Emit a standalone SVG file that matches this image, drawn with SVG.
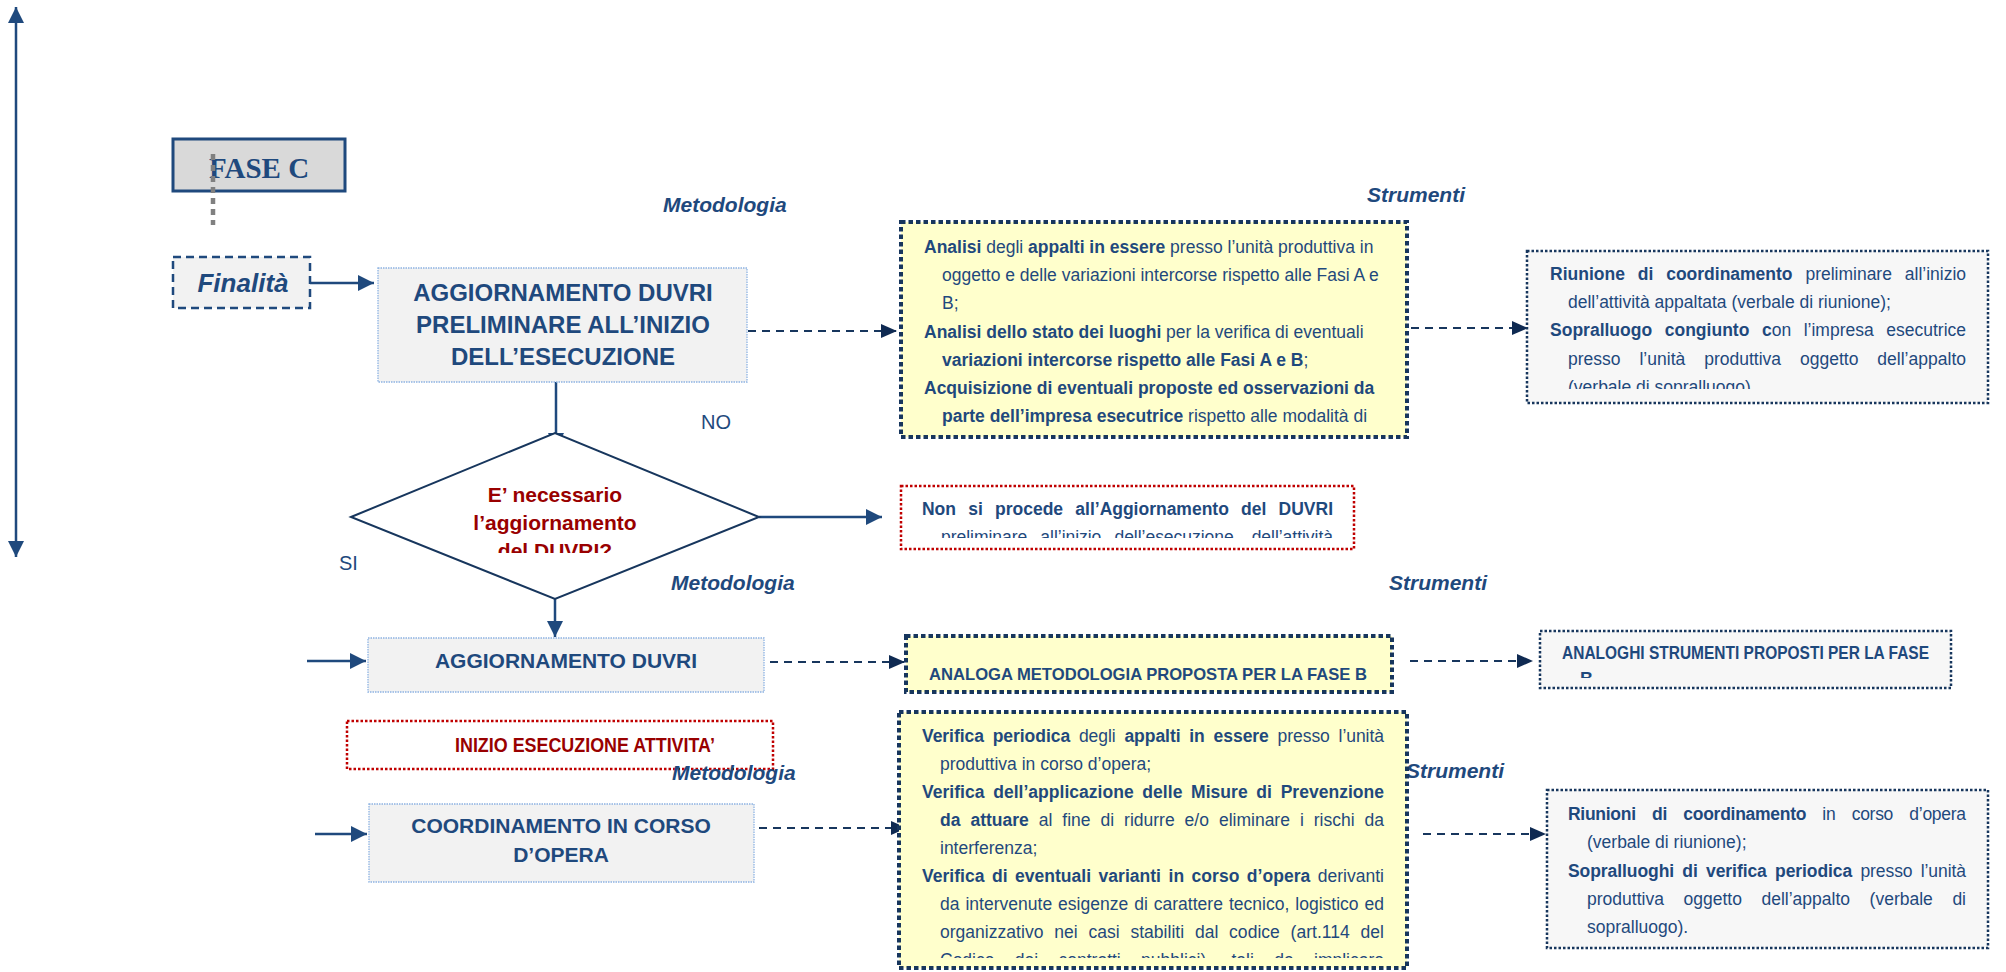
<svg xmlns="http://www.w3.org/2000/svg" width="2006" height="972" viewBox="0 0 2006 972">
<style>
.t{font-family:"Liberation Sans",Arial,sans-serif;fill:#1f497d}
.body{font-size:17.5px}
.b{font-weight:bold}
.lbl{font-size:21px;font-weight:bold;font-style:italic}
.hd{font-weight:bold;text-anchor:middle}
.rt{fill:#990000}
.yel{fill:#ffffcc;stroke:#17365d;stroke-width:4;stroke-dasharray:4.5 3}
.dot{fill:#f7f7f7;stroke:#17365d;stroke-width:2.5;stroke-dasharray:2.5 2}
.red{fill:#ffffff;stroke:#c00000;stroke-width:2.5;stroke-dasharray:2.5 2}
.gray{fill:#f2f2f2;stroke:#8db3e2;stroke-width:1.3;stroke-dasharray:1.5 1}
.solid{stroke:#1f497d;stroke-width:2.5;fill:none;marker-end:url(#a)}
.dash{stroke:#17365d;stroke-width:2;stroke-dasharray:8 6;fill:none;marker-end:url(#ad)}
</style>
<defs>
<marker id="a" markerUnits="userSpaceOnUse" markerWidth="16" markerHeight="16" refX="16" refY="8" orient="auto-start-reverse"><path d="M0,0 L16,8 L0,16 z" fill="#1f497d"/></marker>
<marker id="ad" markerUnits="userSpaceOnUse" markerWidth="16" markerHeight="16" refX="16" refY="8" orient="auto"><path d="M0,1 L16,8 L0,15 z" fill="#0f2a52"/></marker>
<clipPath id="cA"><rect x="900" y="222" width="507" height="206"/></clipPath>
<clipPath id="cR1"><rect x="1527" y="251" width="461" height="138"/></clipPath>
<clipPath id="cN"><rect x="901" y="486" width="453" height="52"/></clipPath>
<clipPath id="cD"><rect x="351" y="433" width="408" height="120"/></clipPath>
<clipPath id="cAG"><rect x="1540" y="631" width="411" height="47"/></clipPath>
<clipPath id="cV"><rect x="899" y="712" width="508" height="246"/></clipPath>
</defs>
<rect width="2006" height="972" fill="#ffffff"/>

<g id="connectors">
<line x1="16" y1="7" x2="16" y2="557" stroke="#1f497d" stroke-width="2.5" marker-start="url(#a)" marker-end="url(#a)"/>
<line class="solid" x1="310" y1="283" x2="374" y2="283"/>
<line class="dash" x1="748" y1="331" x2="897" y2="331"/>
<line class="dash" x1="1411" y1="328" x2="1528" y2="328"/>
<line class="solid" x1="556" y1="382" x2="556" y2="449"/>
<line class="solid" x1="759" y1="517" x2="882" y2="517"/>
<line class="solid" x1="555" y1="599" x2="555" y2="637"/>
<line class="solid" x1="307" y1="661" x2="366" y2="661"/>
<line class="dash" x1="770" y1="662" x2="905" y2="662"/>
<line class="dash" x1="1410" y1="661" x2="1533" y2="661"/>
<line class="solid" x1="315" y1="834" x2="367" y2="834"/>
<line class="dash" x1="759" y1="828" x2="907" y2="828"/>
<line class="dash" x1="1423" y1="834" x2="1546" y2="834"/>
</g>

<g id="fase-c">
<rect x="173" y="139" width="172" height="52" fill="#d9d9d9" stroke="#1f497d" stroke-width="3"/>
<text x="259" y="178" text-anchor="middle" style="font-family:'Liberation Serif','Times New Roman',serif;font-weight:bold;font-size:29px;fill:#1f497d">FASE C</text>
<line x1="213" y1="154" x2="213" y2="225" stroke="#808080" stroke-width="4.5" stroke-dasharray="6 5"/>
</g>

<g id="finalita">
<rect x="173" y="257" width="137" height="51" fill="#f2f2f2" stroke="#1f497d" stroke-width="2.5" stroke-dasharray="8 5"/>
<text class="t" x="243" y="292" text-anchor="middle" style="font-size:26px;font-weight:bold;font-style:italic">Finalità</text>
</g>

<g id="labels">
<text class="t lbl" x="663" y="212">Metodologia</text>
<text class="t lbl" x="1367" y="202">Strumenti</text>
<text class="t lbl" x="671" y="590">Metodologia</text>
<text class="t lbl" x="1389" y="590">Strumenti</text>
<text class="t lbl" x="1406" y="778">Strumenti</text>
<text class="t" x="701" y="429" style="font-size:20px">NO</text>
<text class="t" x="339" y="570" style="font-size:20px">SI</text>
</g>

<g id="aggiornamento-preliminare">
<rect class="gray" x="378" y="268" width="369" height="114"/>
<text class="t hd" x="563" y="301" style="font-size:24px">AGGIORNAMENTO DUVRI</text>
<text class="t hd" x="563" y="333" style="font-size:24px">PRELIMINARE ALL’INIZIO</text>
<text class="t hd" x="563" y="365" style="font-size:24px">DELL’ESECUZIONE</text>
</g>

<g id="analisi">
<rect class="yel" x="901" y="222" width="506" height="215"/>
<g clip-path="url(#cA)" class="t body">
<text x="924" y="253"><tspan class="b">Analisi</tspan> degli <tspan class="b">appalti in essere</tspan> presso l’unità produttiva in</text>
<text x="942" y="281">oggetto e delle variazioni intercorse rispetto alle Fasi A e</text>
<text x="942" y="309">B;</text>
<text x="924" y="338"><tspan class="b">Analisi dello stato dei luoghi</tspan> per la verifica di eventuali</text>
<text x="942" y="366"><tspan class="b">variazioni intercorse rispetto alle Fasi A e B</tspan>;</text>
<text x="924" y="394" class="b">Acquisizione di eventuali proposte ed osservazioni da</text>
<text x="942" y="422"><tspan class="b">parte dell’impresa esecutrice</tspan> rispetto alle modalità di</text>
</g>
</g>

<g id="riunione-preliminare">
<rect class="dot" x="1527" y="251" width="461" height="152"/>
<g clip-path="url(#cR1)" class="t body">
<text x="1550" y="280" style="word-spacing:8px" textLength="416" lengthAdjust="spacing"><tspan class="b">Riunione di coordinamento</tspan> preliminare all’inizio</text>
<text x="1568" y="308">dell’attività appaltata (verbale di riunione);</text>
<text x="1550" y="336" style="word-spacing:7.7px" textLength="416" lengthAdjust="spacing"><tspan class="b">Sopralluogo congiunto c</tspan>on l’impresa esecutrice</text>
<text x="1568" y="365" style="word-spacing:14px" textLength="398" lengthAdjust="spacing">presso l’unità produttiva oggetto dell’appalto</text>
<text x="1568" y="393">(verbale di sopralluogo)</text>
</g>
</g>

<g id="decisione">
<polygon points="351,517 555,433 759,517 555,599" fill="#ffffff" stroke="#17365d" stroke-width="2"/>
<g clip-path="url(#cD)" class="t hd rt" style="font-size:21px">
<text x="555" y="502">E’ necessario</text>
<text x="555" y="530">l’aggiornamento</text>
<text x="555" y="558">del DUVRI?</text>
</g>
</g>

<g id="non-si-procede">
<rect class="red" x="901" y="486" width="453" height="63"/>
<g clip-path="url(#cN)" class="t body">
<text x="922" y="515" class="b" style="word-spacing:7.4px" textLength="411" lengthAdjust="spacing">Non si procede all’Aggiornamento del DUVRI</text>
<text x="941" y="543" style="word-spacing:8.3px" textLength="392" lengthAdjust="spacing">preliminare all’inizio dell’esecuzione, dell’attività</text>
</g>
</g>

<g id="aggiornamento-duvri">
<rect class="gray" x="368" y="638" width="396" height="54"/>
<text class="t hd" x="566" y="668" style="font-size:21px">AGGIORNAMENTO DUVRI</text>
</g>

<g id="analoga-metodologia">
<rect class="yel" x="906" y="636" width="486" height="56"/>
<text class="t b" x="929" y="680" style="font-size:17px" textLength="438" lengthAdjust="spacingAndGlyphs">ANALOGA METODOLOGIA PROPOSTA PER LA FASE B</text>
</g>

<g id="analoghi-strumenti">
<rect class="dot" x="1540" y="631" width="411" height="57"/>
<g clip-path="url(#cAG)" class="t b" style="font-size:18px">
<text x="1562" y="659" textLength="367" lengthAdjust="spacingAndGlyphs">ANALOGHI STRUMENTI PROPOSTI PER LA FASE</text>
<text x="1580" y="685">B</text>
</g>
</g>

<g id="inizio-esecuzione">
<rect class="red" x="347" y="721" width="426" height="48"/>
<text class="t b rt" x="455" y="752" style="font-size:21px" textLength="260" lengthAdjust="spacingAndGlyphs">INIZIO ESECUZIONE ATTIVITA’</text>
</g>
<text class="t lbl" x="672" y="780">Metodologia</text>

<g id="coordinamento">
<rect class="gray" x="369" y="804" width="385" height="78"/>
<text class="t hd" x="561" y="833" style="font-size:21px">COORDINAMENTO IN CORSO</text>
<text class="t hd" x="561" y="862" style="font-size:21px">D’OPERA</text>
</g>

<g id="verifica">
<rect class="yel" x="899" y="712" width="508" height="256"/>
<g clip-path="url(#cV)" class="t body">
<text x="922" y="742" style="word-spacing:4px" textLength="462" lengthAdjust="spacing"><tspan class="b">Verifica periodica</tspan> degli <tspan class="b">appalti in essere</tspan> presso l’unità</text>
<text x="940" y="770">produttiva in corso d’opera;</text>
<text x="922" y="798" class="b" style="word-spacing:3.8px" textLength="462" lengthAdjust="spacing">Verifica dell’applicazione delle Misure di Prevenzione</text>
<text x="940" y="826" style="word-spacing:5.1px" textLength="444" lengthAdjust="spacing"><tspan class="b">da attuare</tspan> al fine di ridurre e/o eliminare i rischi da</text>
<text x="940" y="854">interferenza;</text>
<text x="922" y="882" style="word-spacing:2.6px" textLength="462" lengthAdjust="spacing"><tspan class="b">Verifica di eventuali varianti in corso d’opera</tspan> derivanti</text>
<text x="940" y="910" style="word-spacing:1.1px" textLength="444" lengthAdjust="spacing">da intervenute esigenze di carattere tecnico, logistico ed</text>
<text x="940" y="938" style="word-spacing:5.9px" textLength="444" lengthAdjust="spacing">organizzativo nei casi stabiliti dal codice (art.114 del</text>
<text x="940" y="966" style="word-spacing:15.5px" textLength="444" lengthAdjust="spacing">Codice dei contratti pubblici), tali da implicare</text>
</g>
</g>

<g id="riunioni-corso-opera">
<rect class="dot" x="1547" y="790" width="441" height="158"/>
<g class="t body">
<text x="1568" y="820" style="word-spacing:11.7px" textLength="398" lengthAdjust="spacing"><tspan class="b">Riunioni di coordinamento</tspan> in corso d’opera</text>
<text x="1587" y="848">(verbale di riunione);</text>
<text x="1568" y="877" style="word-spacing:3.5px" textLength="398" lengthAdjust="spacing"><tspan class="b">Sopralluoghi di verifica periodica</tspan> presso l’unità</text>
<text x="1587" y="905" style="word-spacing:14.7px" textLength="379" lengthAdjust="spacing">produttiva oggetto dell’appalto (verbale di</text>
<text x="1587" y="933">sopralluogo).</text>
</g>
</g>
</svg>
